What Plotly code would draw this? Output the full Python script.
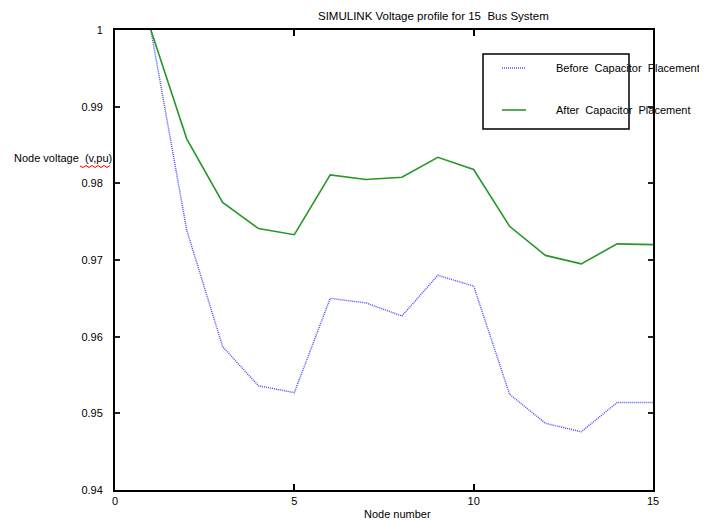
import plotly.graph_objects as go

nodes = list(range(1, 16))
before = [1.0, 0.9739, 0.9587, 0.9536, 0.9527, 0.9650, 0.9644, 0.9627, 0.9680,
          0.9666, 0.9525, 0.9487, 0.9476, 0.9514, 0.9514]
after = [1.0, 0.9858, 0.9775, 0.9741, 0.9733, 0.9811, 0.9805, 0.9808, 0.9834,
         0.9818, 0.9744, 0.9706, 0.9695, 0.9721, 0.9720]
series_names = ["Before  Capacitor  Placement", "After  Capacitor  Placement"]
x_ticks = [0, 5, 10, 15]
y_ticks = [0.94, 0.95, 0.96, 0.97, 0.98, 0.99, 1.0]
y_tick_text = ["0.94", "0.95", "0.96", "0.97", "0.98", "0.99", "1"]

W, H = 707, 521
OFF = 8  # default page body margin
L, R, T, B = 115, 653, 30, 490
FONT = "Liberation Sans, Arial, sans-serif"
BLUE = "rgb(80,80,255)"
GREEN = "rgb(40,150,40)"


def pxx(p):
    return (p - L) / (R - L)


def pxy(p):
    return (B - p) / (B - T)


fig = go.Figure()
fig.add_trace(go.Scatter(x=nodes, y=before, mode="lines", name=series_names[0],
                         line=dict(color=BLUE, width=1.5, dash="1px,1px"), showlegend=False))
fig.add_trace(go.Scatter(x=nodes, y=after, mode="lines", name=series_names[1],
                         line=dict(color=GREEN, width=1.6), showlegend=False))

shapes = []
# legend box
shapes.append(dict(type="rect", xref="paper", yref="paper",
                   x0=pxx(483), x1=pxx(629), y0=pxy(129), y1=pxy(54),
                   line=dict(color="black", width=1.5), fillcolor="rgba(0,0,0,0)"))
shapes.append(dict(type="line", xref="paper", yref="paper",
                   x0=pxx(502), x1=pxx(526), y0=pxy(68), y1=pxy(68),
                   line=dict(color=BLUE, width=1.5, dash="1px,1px")))
shapes.append(dict(type="line", xref="paper", yref="paper",
                   x0=pxx(502), x1=pxx(526), y0=pxy(110), y1=pxy(110),
                   line=dict(color=GREEN, width=1.6)))
# left edge ruler artifact
shapes.append(dict(type="line", xref="paper", yref="paper",
                   x0=pxx(2), x1=pxx(2), y0=pxy(0), y1=pxy(521),
                   line=dict(color="#444", width=1.5)))
for yy in [32, 61, 90, 120, 149, 178, 207, 236, 264, 293, 321, 350, 379, 407, 437, 466, 493]:
    shapes.append(dict(type="line", xref="paper", yref="paper",
                       x0=pxx(2), x1=pxx(6), y0=pxy(yy), y1=pxy(yy),
                       line=dict(color="#444", width=1)))
# red spell-check squiggle under "(v,pu)"
sq = "M {} {}".format(pxx(80), pxy(166))
for i in range(1, 11):
    sq += " L {} {}".format(pxx(80 + i * 3), pxy(166 + (1.5 if i % 2 else -0.5)))
shapes.append(dict(type="path", xref="paper", yref="paper", path=sq,
                   line=dict(color="red", width=1)))

annotations = [
    dict(text="SIMULINK Voltage profile for 15  Bus System", xref="paper", yref="paper",
         x=pxx(433), y=pxy(16), showarrow=False, font=dict(family=FONT, size=11.5, color="black"),
         xanchor="center", yanchor="middle"),
    dict(text="Node voltage  (v,pu)", xref="paper", yref="paper",
         x=pxx(12), y=pxy(158), showarrow=False, font=dict(family=FONT, size=11, color="black"),
         xanchor="left", yanchor="middle"),
    dict(text="Node number", xref="paper", yref="paper",
         x=pxx(397), y=pxy(514), showarrow=False, font=dict(family=FONT, size=11, color="black"),
         xanchor="center", yanchor="middle"),
    dict(text=series_names[0], xref="paper", yref="paper",
         x=pxx(554), y=pxy(68), showarrow=False, font=dict(family=FONT, size=11, color="black"),
         xanchor="left", yanchor="middle"),
    dict(text=series_names[1], xref="paper", yref="paper",
         x=pxx(554), y=pxy(110), showarrow=False, font=dict(family=FONT, size=11, color="black"),
         xanchor="left", yanchor="middle"),
]

fig.update_layout(
    width=W - OFF, height=H - OFF,
    margin=dict(l=L - OFF, r=W - R, t=T - OFF, b=H - B, pad=0),
    paper_bgcolor="white", plot_bgcolor="white",
    showlegend=False,
    shapes=shapes, annotations=annotations,
    font=dict(family=FONT, size=11, color="black"),
)
fig.update_xaxes(range=[0, 15], tickvals=x_ticks, ticks="inside", ticklen=6, tickwidth=1.5,
                 tickcolor="black", showline=True, linecolor="black", linewidth=2,
                 mirror="ticks", showgrid=False, zeroline=False,
                 tickfont=dict(family=FONT, size=11, color="black"))
fig.update_yaxes(range=[0.94, 1.0], tickvals=y_ticks, ticktext=y_tick_text, ticks="inside",
                 ticklen=5, tickwidth=1.5, tickcolor="#222", showline=True, linecolor="black",
                 linewidth=2, mirror="ticks", showgrid=False, zeroline=False,
                 ticklabelstandoff=8,
                 tickfont=dict(family=FONT, size=11, color="black"))

fig.write_html("out.html")
